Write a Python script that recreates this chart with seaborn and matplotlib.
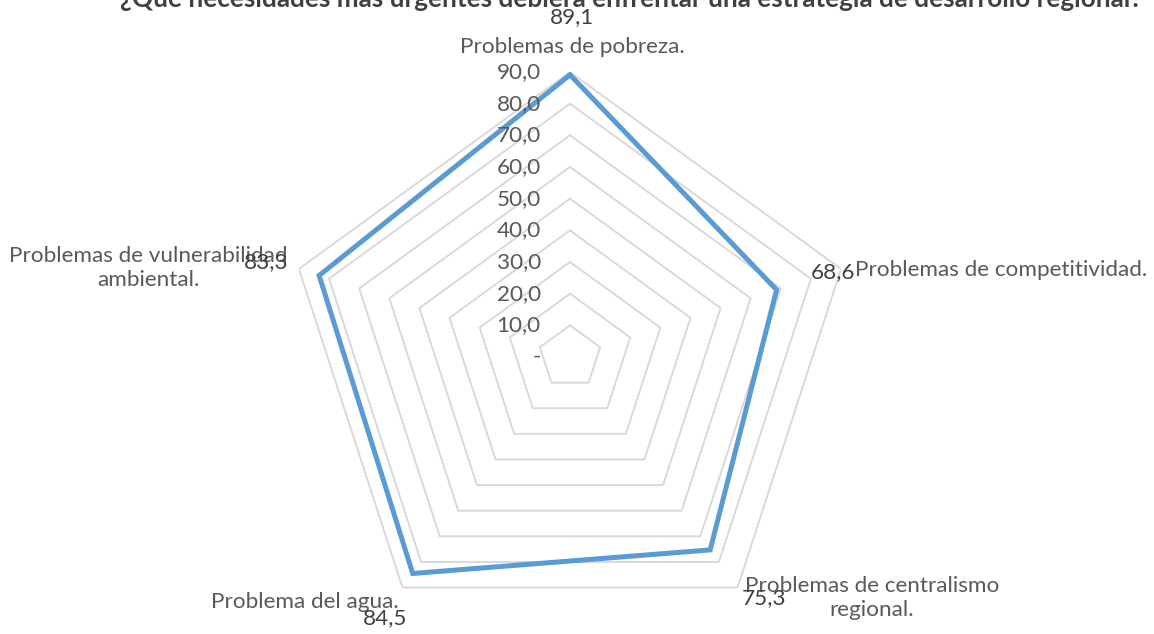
import numpy as np
import matplotlib
matplotlib.use("Agg")
import matplotlib.pyplot as plt
import seaborn as sns

title = "¿Qué necesidades más urgentes debiera enfrentar una estrategia de desarrollo regional?"
categories = ["Problemas de pobreza.", "Problemas de competitividad.",
              "Problemas de centralismo\nregional.", "Problema del agua.",
              "Problemas de vulnerabilidad\nambiental."]
values = [89.1, 68.6, 75.3, 84.5, 83.3]
value_labels = ["89,1", "68,6", "75,3", "84,5", "83,3"]
ring_values = [10, 20, 30, 40, 50, 60, 70, 80, 90]
tick_labels = ["-", "10,0", "20,0", "30,0", "40,0", "50,0", "60,0", "70,0", "80,0", "90,0"]

sns.set_theme(style="white")
plt.rcParams['font.family'] = ['Lato', 'DejaVu Sans']

W, H = 1154, 634
fig = plt.figure(figsize=(W / 100, H / 100), dpi=100)
cx, cy, R = 570, 357, 285
ax = fig.add_axes([(cx - R) / W, (H - cy - R) / H, 2 * R / W, 2 * R / H], projection='polar')
ax.set_theta_offset(np.pi / 2)
ax.set_theta_direction(-1)
ax.set_ylim(0, 90)
ax.grid(False)
ax.set_xticks([])
ax.set_yticks([])
ax.spines['polar'].set_visible(False)
ax.patch.set_alpha(0)

n = len(categories)
theta = np.linspace(0, 2 * np.pi, n, endpoint=False)
theta_c = np.append(theta, theta[0])

grid_col = "#D9D9D9"
for rv in ring_values:
    ax.plot(theta_c, [rv] * (n + 1), color=grid_col, lw=1.4, zorder=1)

vals_c = np.append(values, values[0])
ax.plot(theta_c, vals_c, color="#5B9BD5", lw=3.6, zorder=3, solid_joinstyle='miter')

txt = "#595959"
fs = 16.2
# radial tick labels
for i, lab in enumerate(tick_labels):
    ax.annotate(lab, xy=(0, i * 10), xytext=(-21, 0), textcoords='offset points',
                ha='right', va='center', fontsize=fs, color=txt)

def px(x, y):
    return x / W, 1 - y / H

# category labels
fig.text(*px(572, 47), categories[0], ha='center', va='center', fontsize=fs, color=txt)
fig.text(*px(855, 270), categories[1], ha='left', va='center', fontsize=fs, color=txt)
fig.text(*px(872, 598), categories[2], ha='center', va='center', fontsize=fs, color=txt, linespacing=1.2)
fig.text(*px(305, 602), categories[3], ha='center', va='center', fontsize=fs, color=txt)
fig.text(*px(148, 268), categories[4], ha='center', va='center', fontsize=fs, color=txt, linespacing=1.2)

# value labels
fig.text(*px(572, 17), value_labels[0], ha='center', va='center', fontsize=fs, color="#404040")
fig.text(*px(833, 272), value_labels[1], ha='center', va='center', fontsize=fs, color="#404040")
fig.text(*px(764, 598), value_labels[2], ha='center', va='center', fontsize=fs, color="#404040")
fig.text(*px(385, 618), value_labels[3], ha='center', va='center', fontsize=fs, color="#404040")
fig.text(*px(266, 262), value_labels[4], ha='center', va='center', fontsize=fs, color="#404040")

fig.text(*px(631, 7), title, ha='center', va='baseline', fontsize=18.8, fontweight='bold', color="#404040")

fig.savefig("out.png", dpi=100)
